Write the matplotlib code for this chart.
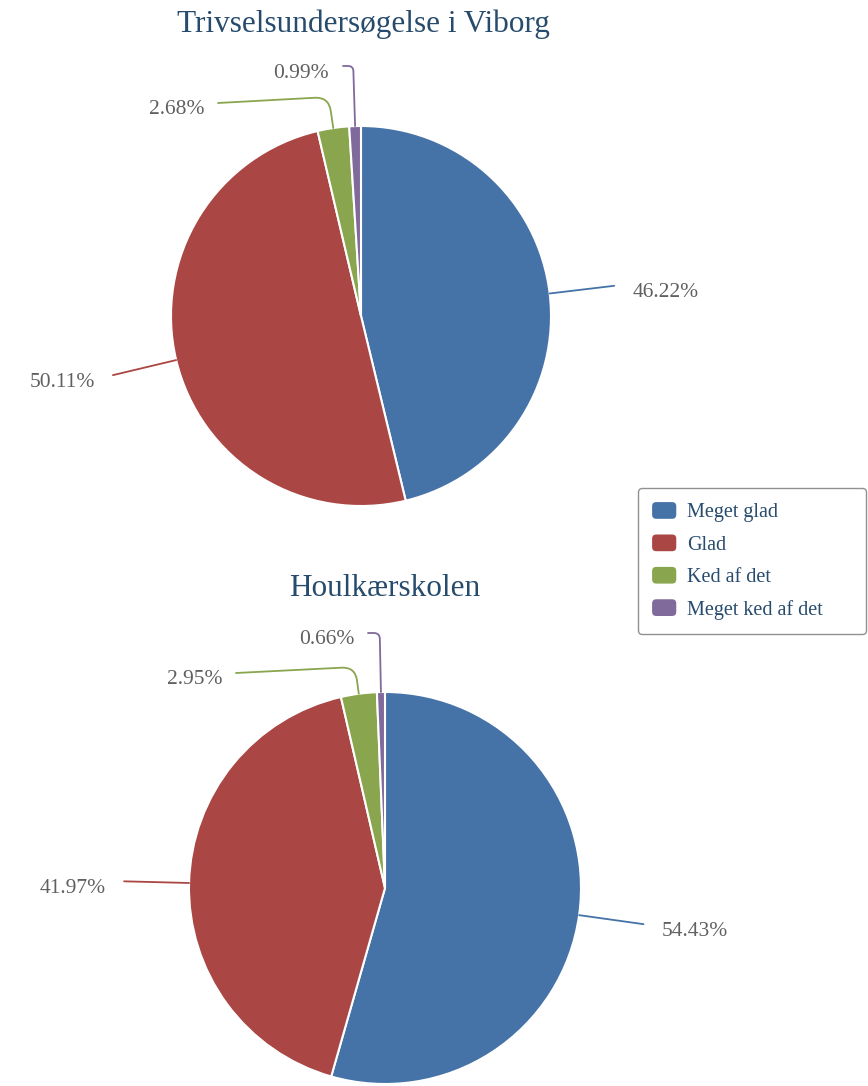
import numpy as np
import matplotlib
matplotlib.use('Agg')
import matplotlib.pyplot as plt
from matplotlib.path import Path
from matplotlib.patches import PathPatch, FancyBboxPatch, Wedge
from matplotlib.legend_handler import HandlerPatch

plt.rcParams['font.family'] = ['Liberation Serif', 'DejaVu Serif']

# data
categories = ['Meget glad', 'Glad', 'Ked af det', 'Meget ked af det']
viborg_pct = [46.22, 50.11, 2.68, 0.99]
houlkaer_pct = [54.43, 41.97, 2.95, 0.66]
titles = ['Trivselsundersøgelse i Viborg', 'Houlkærskolen']

colors = ['#4572A7', '#AA4643', '#89A54E', '#80699B']
TITLE_C = '#274b6d'
LABEL_C = '#606060'

W, H = 868, 1086

# layout in pixels (y measured from top); label_at = connector end relative to centre
charts = [
    dict(values=viborg_pct, title=titles[0], center=(361, 316), r=190, title_pos=(363, 24),
         label_at=[None, None, (-143, -213), (-18, -250)]),
    dict(values=houlkaer_pct, title=titles[1], center=(385, 888), r=196, title_pos=(385, 588),
         label_at=[None, None, (-149, -215), (-17, -255)]),
]


def draw_connector(ax, pts, color, rr=10):
    # pts: end -> corner -> edge, rounded at the corner
    p_end, p_c, p_edge = [np.asarray(p, float) for p in pts]
    d1 = p_end - p_c
    d2 = p_edge - p_c
    l1, l2 = np.linalg.norm(d1), np.linalg.norm(d2)
    r = min(rr, l1 / 2, l2 / 2)
    a = p_c + d1 / max(l1, 1e-9) * r
    b = p_c + d2 / max(l2, 1e-9) * r
    verts = [p_end, a, p_c, b, p_edge]
    codes = [Path.MOVETO, Path.LINETO, Path.CURVE3, Path.CURVE3, Path.LINETO]
    ax.add_patch(PathPatch(Path(verts, codes), fill=False, edgecolor=color, lw=1.3,
                           capstyle='round', zorder=3))


fig = plt.figure(figsize=(W / 100, H / 100), dpi=100)
ax = fig.add_axes([0, 0, 1, 1])

legend_wedges = None
for ch in charts:
    cx, cy_px = ch['center']
    cy = H - cy_px
    r = ch['r']
    wedges, _ = ax.pie(ch['values'], colors=colors, startangle=90, counterclock=False,
                       center=(cx, cy), radius=r,
                       wedgeprops=dict(edgecolor='white', linewidth=1.5))
    if legend_wedges is None:
        legend_wedges = wedges

    for w, v, col, lab in zip(wedges, ch['values'], colors, ch['label_at']):
        mid = np.deg2rad((w.theta1 + w.theta2) / 2)
        d = np.array([np.cos(mid), np.sin(mid)])
        edge = np.array([cx, cy]) + r * d
        if lab is None:
            end = np.array([cx, cy]) + (r + 65) * d
            corner = edge + 15 * d
            gap, rr = 18, 10
        else:
            end = np.array([cx + lab[0], cy - lab[1]])
            lift = 6 if abs(edge[0] - end[0]) > 40 else 0
            t = (end[1] + lift - edge[1]) / d[1]
            corner = edge + t * d
            gap, rr = 14, 14
        draw_connector(ax, [end, corner, edge], col, rr)
        side = 1 if end[0] > cx + 30 else -1
        ax.text(end[0] + side * gap, end[1] - 7, f'{v:.2f}%', color=LABEL_C, fontsize=15.5,
                ha='left' if side > 0 else 'right', va='center')

    tx, ty = ch['title_pos']
    ax.text(tx, H - ty, ch['title'], color=TITLE_C, fontsize=22.5, ha='center', va='center')

ax.set_xlim(0, W)
ax.set_ylim(0, H)
ax.set_aspect('auto')
ax.axis('off')


def rounded_handle(legend, orig_handle, xdescent, ydescent, width, height, fontsize):
    return FancyBboxPatch((-xdescent, -ydescent), width, height,
                          boxstyle='round,pad=0,rounding_size=3')


leg = fig.legend(legend_wedges, categories, loc='upper left',
                 bbox_to_anchor=(638 / W, 1 - 488 / H - 0.01, 228 / W, 0.01), mode='expand',
                 borderaxespad=0, fontsize=14.5, labelcolor=TITLE_C,
                 handlelength=1.2, handleheight=0.9, handletextpad=0.55,
                 labelspacing=0.6, borderpad=0.7, fancybox=True,
                 edgecolor='#909090', framealpha=1,
                 handler_map={Wedge: HandlerPatch(patch_func=rounded_handle)})
leg.get_frame().set_linewidth(1.0)
for h in leg.legend_handles:
    h.set_edgecolor('none')

fig.savefig('out.png', dpi=100)
